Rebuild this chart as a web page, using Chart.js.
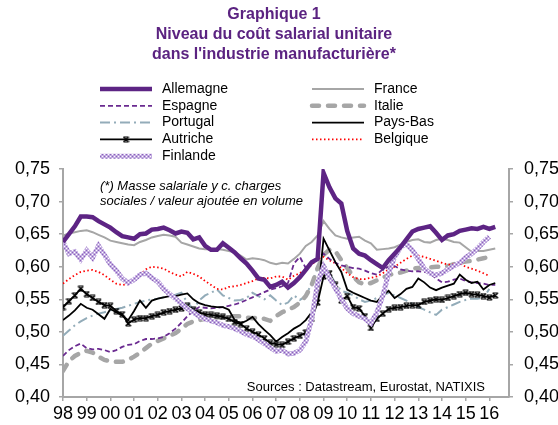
<!DOCTYPE html>
<html>
<head>
<meta charset="utf-8">
<script src="https://cdn.jsdelivr.net/npm/chart.js@4/dist/chart.umd.min.js"></script>
<style>
  html, body { margin: 0; padding: 0; background: #fff; }
  canvas { display: block; }
</style>
</head>
<body>
<canvas id="chart" width="558" height="425"></canvas>
<script>
const FONT = "'Liberation Sans', Arial, sans-serif";

// x axis: quarterly points, 1998Q1 .. 2016Q2
const quarters = [];
for (let i = 0; i < 74; i++) quarters.push(1998 + i / 4);
const yearTicks = [1998, 1999, 2000, 2001, 2002, 2003, 2004, 2005, 2006, 2007, 2008, 2009, 2010, 2011, 2012, 2013, 2014, 2015, 2016];
const yearLabels = ["98", "99", "00", "01", "02", "03", "04", "05", "06", "07", "08", "09", "10", "11", "12", "13", "14", "15", "16"];
const yTicks = [0.40, 0.45, 0.50, 0.55, 0.60, 0.65, 0.70, 0.75];
const yTickLabels = ["0,40", "0,45", "0,50", "0,55", "0,60", "0,65", "0,70", "0,75"];

const allemagne = [0.638, 0.650, 0.662, 0.677, 0.677, 0.676, 0.670, 0.665, 0.660, 0.653,
  0.647, 0.645, 0.643, 0.650, 0.651, 0.657, 0.658, 0.660, 0.656, 0.651,
  0.654, 0.652, 0.642, 0.645, 0.632, 0.626, 0.626, 0.636, 0.629, 0.622,
  0.613, 0.605, 0.594, 0.582, 0.580, 0.569, 0.572, 0.577, 0.568, 0.575,
  0.584, 0.595, 0.607, 0.612, 0.744, 0.722, 0.705, 0.697, 0.655, 0.628,
  0.620, 0.617, 0.610, 0.604, 0.598, 0.610, 0.620, 0.630, 0.642, 0.654,
  0.658, 0.660, 0.662, 0.652, 0.641, 0.648, 0.650, 0.655, 0.657, 0.659,
  0.658, 0.661, 0.658, 0.661];
const france = [0.648, 0.651, 0.653, 0.655, 0.656, 0.653, 0.649, 0.645, 0.640, 0.638,
  0.636, 0.634, 0.633, 0.638, 0.641, 0.645, 0.647, 0.649, 0.648, 0.646,
  0.637, 0.634, 0.631, 0.628, 0.627, 0.627, 0.627, 0.626, 0.624, 0.622,
  0.617, 0.611, 0.613, 0.612, 0.610, 0.606, 0.604, 0.606, 0.605, 0.612,
  0.620, 0.632, 0.638, 0.648, 0.670, 0.658, 0.648, 0.645, 0.643, 0.645,
  0.646, 0.640, 0.636, 0.626, 0.627, 0.628, 0.630, 0.634, 0.638, 0.641,
  0.642, 0.638, 0.637, 0.641, 0.643, 0.641, 0.638, 0.637, 0.630, 0.623,
  0.624, 0.624, 0.626, 0.628];
const espagne = [0.463, 0.472, 0.478, 0.482, 0.475, 0.473, 0.474, 0.472, 0.469, 0.472,
  0.477, 0.480, 0.481, 0.486, 0.489, 0.489, 0.490, 0.492, 0.498, 0.505,
  0.514, 0.524, 0.532, 0.538, 0.537, 0.536, 0.537, 0.538, 0.540, 0.542,
  0.545, 0.549, 0.553, 0.557, 0.561, 0.565, 0.567, 0.570, 0.575, 0.605,
  0.615, 0.598, 0.605, 0.614, 0.620, 0.612, 0.606, 0.602, 0.600, 0.598,
  0.597, 0.594, 0.590, 0.588, 0.596, 0.600, 0.601, 0.596, 0.594, 0.593,
  0.593, 0.592, 0.590, 0.582, 0.576, 0.577, 0.580, 0.582, 0.578, 0.576,
  0.575, 0.574, 0.572, 0.572];
const italie = [0.440, 0.455, 0.463, 0.468, 0.471, 0.468, 0.462, 0.457, 0.455, 0.454,
  0.454, 0.457, 0.462, 0.468, 0.475, 0.482, 0.486, 0.490, 0.494, 0.498,
  0.505, 0.512, 0.516, 0.518, 0.520, 0.521, 0.522, 0.523, 0.524, 0.524,
  0.524, 0.522, 0.521, 0.522, 0.520, 0.517, 0.524, 0.530, 0.534, 0.538,
  0.545, 0.555, 0.572, 0.598, 0.618, 0.626, 0.624, 0.610, 0.598, 0.585,
  0.576, 0.573, 0.575, 0.579, 0.583, 0.587, 0.590, 0.591, 0.594, 0.597,
  0.598, 0.598, 0.599, 0.600, 0.600, 0.601, 0.604, 0.606, 0.608, 0.609,
  0.611, 0.613, 0.615, null];
const portugal = [0.494, 0.502, 0.510, 0.516, 0.521, 0.525, 0.528, 0.530, 0.533, 0.535,
  0.537, 0.540, 0.543, 0.546, 0.548, 0.550, 0.551, 0.553, 0.555, 0.557,
  0.560, 0.545, 0.535, 0.548, 0.556, 0.560, 0.565, 0.556, 0.552, 0.548,
  0.549, 0.552, 0.560, 0.555, 0.550, 0.556, 0.548, 0.541, 0.545, 0.556,
  0.549, 0.555, 0.575, 0.598, 0.605, 0.590, 0.575, 0.563, 0.560, 0.556,
  0.550, 0.546, 0.548, 0.552, 0.556, 0.560, 0.556, 0.552, 0.548, 0.543,
  0.538, 0.534, 0.530, 0.526, 0.534, 0.538, 0.542, 0.546, 0.549, 0.551,
  0.551, 0.552, 0.566, null];
const paysBas = [0.518, 0.525, 0.533, 0.543, 0.537, 0.534, 0.527, 0.520, 0.535, 0.530,
  0.525, 0.518, 0.532, 0.548, 0.537, 0.548, 0.551, 0.553, 0.555, 0.555,
  0.557, 0.559, 0.550, 0.544, 0.541, 0.539, 0.538, 0.538, 0.534, 0.518,
  0.513, 0.517, 0.523, 0.512, 0.503, 0.495, 0.485, 0.492, 0.498, 0.505,
  0.510, 0.518, 0.530, 0.552, 0.643, 0.625, 0.607, 0.592, 0.565, 0.560,
  0.556, 0.552, 0.548, 0.546, 0.556, 0.563, 0.552, 0.558, 0.566, 0.569,
  0.582, 0.576, 0.568, 0.564, 0.568, 0.571, 0.574, 0.588, 0.580, 0.575,
  0.577, 0.565, 0.572, 0.575];
const autriche = [0.538, 0.547, 0.556, 0.566, 0.558, 0.552, 0.546, 0.541, 0.540, 0.532,
  0.527, 0.513, 0.519, 0.521, 0.521, 0.524, 0.526, 0.530, 0.532, 0.534,
  0.536, 0.540, 0.534, 0.530, 0.527, 0.526, 0.525, 0.523, 0.520, 0.515,
  0.512, 0.505, 0.500, 0.496, 0.490, 0.483, 0.481, 0.480, 0.485, 0.490,
  0.494, 0.499, 0.520, 0.545, 0.585, 0.590, 0.572, 0.548, 0.555, 0.538,
  0.536, 0.524, 0.506, 0.520, 0.528, 0.535, 0.537, 0.538, 0.540, 0.541,
  0.541, 0.546, 0.548, 0.550, 0.549, 0.552, 0.555, 0.558, 0.560, 0.558,
  0.557, 0.555, 0.553, 0.556];
const belgique = [0.574, 0.581, 0.587, 0.592, 0.594, 0.595, 0.592, 0.587, 0.580, 0.574,
  0.572, 0.573, 0.580, 0.588, 0.596, 0.600, 0.599, 0.597, 0.592, 0.588,
  0.585, 0.592, 0.589, 0.585, 0.578, 0.572, 0.566, 0.565, 0.569, 0.570,
  0.572, 0.575, 0.578, 0.582, 0.583, 0.582, 0.585, 0.585, 0.580, 0.586,
  0.590, 0.596, 0.603, 0.612, 0.615, 0.610, 0.605, 0.598, 0.590, 0.584,
  0.581, 0.581, 0.583, 0.585, 0.590, 0.596, 0.600, 0.606, 0.612, 0.617,
  0.617, 0.615, 0.612, 0.609, 0.606, 0.603, 0.604, 0.605, 0.600, 0.597,
  0.594, 0.590, 0.586, null];
const finlande = [0.638, 0.620, 0.623, 0.611, 0.625, 0.614, 0.632, 0.618, 0.604, 0.594,
  0.582, 0.575, 0.580, 0.588, 0.590, 0.583, 0.577, 0.566, 0.558, 0.551,
  0.543, 0.536, 0.530, 0.524, 0.520, 0.517, 0.514, 0.510, 0.508, 0.505,
  0.501, 0.496, 0.493, 0.488, 0.482, 0.476, 0.470, 0.472, 0.466, 0.467,
  0.472, 0.485, 0.520, 0.575, 0.600, 0.583, 0.567, 0.550, 0.536, 0.528,
  0.524, 0.520, 0.513, 0.530, 0.555, 0.590, 0.615, 0.630, 0.635, 0.625,
  0.612, 0.597, 0.590, 0.587, 0.590, 0.596, 0.601, 0.606, 0.614, 0.620,
  0.628, 0.638, 0.646, null];

const titleLines = ["Graphique 1", "Niveau du coût salarial unitaire", "dans l'industrie manufacturière*"];
const noteLines = ["(*) Masse salariale y c. charges", "sociales / valeur ajoutée en volume"];
const sourceText = "Sources : Datastream, Eurostat, NATIXIS";
const legendOrder = ["Allemagne", "France", "Espagne", "Italie", "Portugal", "Pays-Bas", "Autriche", "Belgique", "Finlande"];

// hatched look for the Finlande line
function finPattern() {
  const c = document.createElement("canvas");
  c.width = 4; c.height = 4;
  const g = c.getContext("2d");
  g.fillStyle = "#c2abe0"; g.fillRect(0, 0, 4, 4);
  g.fillStyle = "#8a62ba"; g.fillRect(0, 0, 1, 1); g.fillRect(2, 2, 1, 1);
  g.fillStyle = "#ffffff"; g.fillRect(2, 0, 1, 1); g.fillRect(0, 2, 1, 1);
  return g.createPattern(c, "repeat");
}

// hourglass-like marker used by Autriche
function hourglass() {
  const c = document.createElement("canvas");
  c.width = 7; c.height = 7;
  const g = c.getContext("2d");
  g.strokeStyle = "#000"; g.lineWidth = 1.2;
  g.beginPath();
  g.moveTo(0.8, 1); g.lineTo(6.2, 1);
  g.moveTo(0.8, 6); g.lineTo(6.2, 6);
  g.moveTo(0.8, 1); g.lineTo(6.2, 6);
  g.moveTo(6.2, 1); g.lineTo(0.8, 6);
  g.stroke();
  return c;
}

const marker = hourglass();

function line(label, data, color, width, extra) {
  return Object.assign({
    label: label, data: data, borderColor: color, borderWidth: width,
    pointRadius: 0, tension: 0, fill: false
  }, extra || {});
}

const datasets = [
  line("Allemagne", allemagne, "#5d2484", 4.5),
  line("Finlande", finlande, finPattern(), 5),
  line("France", france, "#a6a6a6", 2),
  line("Pays-Bas", paysBas, "#000000", 1.8),
  line("Autriche", autriche, "#000000", 1.8, { pointRadius: 3, pointStyle: marker }),
  line("Espagne", espagne, "#6a2a90", 1.8, { borderDash: [5, 3] }),
  line("Belgique", belgique, "#ff0000", 1.8, { borderDash: [1.5, 2.5] }),
  line("Italie", italie, "#a6a6a6", 4.5, { borderDash: [7, 9], borderCapStyle: "round" }),
  line("Portugal", portugal, "#93acb9", 2, { borderDash: [10, 4, 2, 4] })
];

const overlay = {
  id: "overlay",
  afterDraw(chart) {
    const ctx = chart.ctx;
    ctx.save();
    ctx.textBaseline = "middle";
    ctx.textAlign = "center";
    ctx.fillStyle = "#5b2381";
    ctx.font = "bold 16px " + FONT;
    titleLines.forEach((t, i) => ctx.fillText(t, 274, 15 + i * 20));

    legendOrder.forEach((name, k) => {
      const ds = chart.data.datasets.find(d => d.label === name);
      const col = k % 2, row = Math.floor(k / 2);
      const x0 = col ? 312 : 100, x1 = x0 + 52, y = 89 + row * 16.8;
      ctx.save();
      ctx.strokeStyle = ds.borderColor;
      ctx.lineWidth = ds.borderWidth;
      ctx.setLineDash(ds.borderDash || []);
      ctx.lineCap = ds.borderCapStyle || "butt";
      ctx.beginPath(); ctx.moveTo(x0, y); ctx.lineTo(x1, y); ctx.stroke();
      if (ds.pointStyle) ctx.drawImage(ds.pointStyle, (x0 + x1) / 2 - 3.5, y - 3.5);
      ctx.restore();
      ctx.fillStyle = "#000";
      ctx.font = "14px " + FONT;
      ctx.textAlign = "left";
      ctx.fillText(name, x1 + 10, y);
    });
    ctx.font = "italic 13px " + FONT;
    ctx.fillText(noteLines[0], 100, 186);
    ctx.fillText(noteLines[1], 100, 201);
    ctx.font = "13px " + FONT;
    ctx.textAlign = "right";
    ctx.fillText(sourceText, 485, 387);
    ctx.restore();
  }
};

const axisGrey = "#a6a6a6";
function yAxis(pos, width, pad) {
  return {
    position: pos, min: 0.40, max: 0.75,
    afterBuildTicks: s => { s.ticks = yTicks.map(v => ({ value: v })); },
    afterFit: s => { s.width = width; },
    ticks: { callback: (v, i) => yTickLabels[i], padding: pad, color: "#000", font: { family: FONT, size: 18 } },
    grid: { drawOnChartArea: false, tickLength: 4, color: axisGrey, lineWidth: 1.5 },
    border: { color: axisGrey, width: 2 }
  };
}

new Chart(document.getElementById("chart"), {
  type: "line",
  data: { labels: quarters, datasets: datasets },
  plugins: [overlay],
  options: {
    responsive: false,
    animation: false,
    layout: { padding: { left: 0, right: 0, top: 169, bottom: 0 } },
    plugins: {
      legend: { display: false },
      tooltip: { enabled: false },
      title: { display: false }
    },
    scales: {
      x: {
        type: "linear", min: 1998, max: 2016.83,
        afterBuildTicks: s => { s.ticks = yearTicks.map(v => ({ value: v })); },
        afterFit: s => { s.height = 28; },
        ticks: { callback: (v, i) => yearLabels[i], autoSkip: false, maxRotation: 0, padding: 2, color: "#000", font: { family: FONT, size: 18 } },
        grid: { drawOnChartArea: false, tickLength: 4, color: axisGrey, lineWidth: 1.5 },
        border: { color: axisGrey, width: 2 }
      },
      y: yAxis("left", 63, 9),
      y2: yAxis("right", 49, 11)
    }
  }
});
</script>
</body>
</html>
